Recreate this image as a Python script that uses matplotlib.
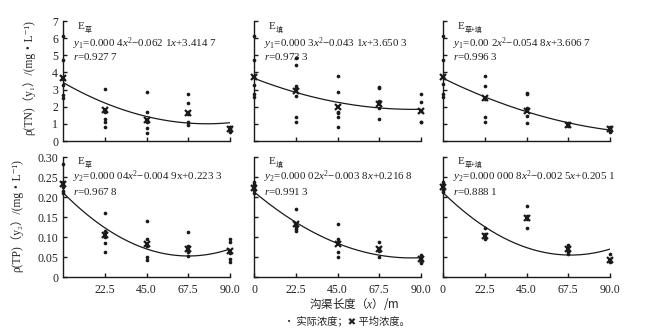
import matplotlib
matplotlib.use('Agg')
import matplotlib.pyplot as plt
import numpy as np

plt.rcParams['font.family'] = ['Liberation Serif', 'Noto Sans CJK SC', 'DejaVu Sans']
plt.rcParams['mathtext.fontset'] = 'custom'
plt.rcParams['mathtext.rm'] = 'Liberation Serif'
plt.rcParams['mathtext.it'] = 'Liberation Serif:italic'
plt.rcParams['axes.unicode_minus'] = True

# 沟渠长度
x_pos = [0, 22.5, 45, 67.5, 90]

# TN 实际浓度 (mg/L)
tn_cao = [[6.15, 4.73, 3.60, 3.27, 2.68, 2.53],
          [3.03, 1.81, 1.71, 1.26, 1.09, 0.80],
          [2.88, 1.71, 1.23, 1.09, 0.74, 0.45],
          [2.72, 2.24, 1.71, 1.58, 1.09, 0.93],
          [0.84, 0.80, 0.75, 0.65, 0.60, 0.55]]
tn_tian = [[6.15, 4.73, 3.72, 3.27, 2.74, 2.59],
           [4.86, 4.44, 3.21, 3.07, 2.65, 1.42, 1.13],
           [3.81, 2.84, 1.71, 1.61, 1.38, 0.80],
           [3.17, 3.11, 2.33, 2.24, 1.95, 1.26],
           [2.74, 2.26, 1.77, 1.13, 1.09]]
tn_mix = [[6.15, 4.73, 3.72, 3.31, 2.74, 2.59],
          [3.81, 3.21, 2.45, 1.42, 1.13],
          [2.82, 2.72, 1.91, 1.81, 1.46, 1.03],
          [1.03, 0.98, 0.93, 0.88],
          [0.84, 0.74, 0.70, 0.64, 0.55]]
# TN 平均浓度
tn_cao_mean = [3.65, 1.81, 1.25, 1.62, 0.70]
tn_tian_mean = [3.72, 2.92, 2.00, 2.15, 1.77]
tn_mix_mean = [3.72, 2.52, 1.75, 0.95, 0.70]

# TP 实际浓度 (mg/L)
tp_cao = [[0.282, 0.237, 0.226, 0.216, 0.211],
          [0.159, 0.116, 0.099, 0.084, 0.062],
          [0.141, 0.094, 0.078, 0.049, 0.043],
          [0.112, 0.078, 0.074, 0.062, 0.053],
          [0.095, 0.087, 0.059, 0.045, 0.038]]
tp_tian = [[0.237, 0.232, 0.226, 0.218, 0.211],
           [0.170, 0.128, 0.124, 0.120, 0.116],
           [0.1325, 0.095, 0.087, 0.062, 0.049],
           [0.088, 0.072, 0.065, 0.051],
           [0.055, 0.044, 0.038, 0.036]]
tp_mix = [[0.237, 0.232, 0.226, 0.218, 0.213],
          [0.122, 0.1075, 0.098, 0.094],
          [0.1775, 0.152, 0.144, 0.122],
          [0.080, 0.074, 0.0675, 0.062, 0.0575],
          [0.057, 0.045, 0.040, 0.037]]
tp_cao_mean = [0.232, 0.105, 0.083, 0.070, 0.066]
tp_tian_mean = [0.222, 0.132, 0.083, 0.069, 0.045]
tp_mix_mean = [0.225, 0.103, 0.148, 0.069, 0.043]

# 拟合曲线 (按图中曲线读取的系数 a, b, c)
fit_tn = [[0.0004, -0.0621, 3.4147],
          [0.000244, -0.0421, 3.66],
          [0.000217, -0.0531, 3.66]]
fit_tp = [[3.47e-5, -0.00469, 0.211],
          [2.3e-5, -0.0039, 0.213],
          [3.3e-5, -0.00454, 0.211]]

subs = ['草', '填', '草+填']
eq_tn = ['$y_1$=0.000 4$x^2$\u22120.062 1$x$+3.414 7',
         '$y_1$=0.000 3$x^2$\u22120.043 1$x$+3.650 3',
         '$y_1$=0.00 2$x^2$\u22120.054 8$x$+3.606 7']
r_tn = ['$r$=0.927 7', '$r$=0.973 3', '$r$=0.996 3']
eq_tp = ['$y_2$=0.000 04$x^2$\u22120.004 9x+0.223 3',
         '$y_2$=0.000 02$x^2$\u22120.003 8$x$+0.216 8',
         '$y_2$=0.000 000 8$x^2$\u22120.002 5$x$+0.205 1']
r_tp = ['$r$=0.967 8', '$r$=0.991 3', '$r$=0.888 1']

tn_vals = [tn_cao, tn_tian, tn_mix]
tn_means = [tn_cao_mean, tn_tian_mean, tn_mix_mean]
tp_vals = [tp_cao, tp_tian, tp_mix]
tp_means = [tp_cao_mean, tp_tian_mean, tp_mix_mean]

col = '#1a1a1a'
tcol = '#222222'
fig = plt.figure(figsize=(6.72, 3.31), dpi=100)

lefts = [63/672, 254/672, 443/672]
w = 167/672
h = 120/331
b_top = 1 - 141/331
b_bot = 1 - 277/331

xx = np.linspace(0, 90, 200)


def draw(ax, vals, means, coef, sub, eq, rtxt, ymax, yticks, ytl, row):
    for xp, ys in zip(x_pos, vals):
        ax.scatter([xp]*len(ys), ys, s=7, color=col, zorder=3, clip_on=False, linewidths=0)
    ax.plot(x_pos, means, 'x', color=col, ms=4.5, mew=1.6, zorder=4, clip_on=False)
    a, b, c = coef
    ax.plot(xx, a*xx**2 + b*xx + c, color=col, lw=0.9)
    ax.set_xlim(0, 90)
    ax.set_ylim(0, ymax)
    ax.spines['top'].set_visible(False)
    ax.spines['right'].set_visible(False)
    for s in ['left', 'bottom']:
        ax.spines[s].set_linewidth(1.0)
        ax.spines[s].set_color(col)
    ax.tick_params(direction='in', length=3, width=1.0, color=col, labelsize=8.5,
                   labelcolor=tcol, pad=3.5)
    ax.set_yticks(yticks)
    if ytl is None:
        ax.set_yticklabels([])
    else:
        ax.set_yticklabels(ytl)
    ty = [0.954, 0.8125, 0.702] if row == 0 else [0.9625, 0.833, 0.7125]
    ax.text(0.085, ty[0], 'E', transform=ax.transAxes, fontsize=8, va='center', color=tcol)
    ax.annotate(sub, xy=(0.085, ty[0]), xycoords='axes fraction', xytext=(5.2, -2.5),
                textcoords='offset points', fontsize=5, va='center', color=tcol,
                family=['Noto Sans CJK SC', 'DejaVu Sans'])
    ax.text(0.06, ty[1], eq, transform=ax.transAxes, fontsize=7.9, va='center', color=tcol)
    ax.text(0.06, ty[2], rtxt, transform=ax.transAxes, fontsize=7.9, va='center', color=tcol)


for i in range(3):
    ax = fig.add_axes([lefts[i], b_top, w, h])
    draw(ax, tn_vals[i], tn_means[i], fit_tn[i], subs[i], eq_tn[i], r_tn[i], 7,
         range(0, 8), [str(v) for v in range(0, 8)] if i == 0 else None, 0)
    ax.set_xticks([22.5, 45, 67.5, 90])
    ax.set_xticklabels([])
    if i == 0:
        ax.set_ylabel('ρ(TN)（y₁）/(mg・L⁻¹)', fontsize=8.3, color=tcol)
        ax.yaxis.set_label_coords(-0.168, 0.53)

tp_ticks = [0, 0.05, 0.10, 0.15, 0.20, 0.25, 0.30]
tp_tl = ['0', '0.05', '0.10', '0.15', '0.20', '0.25', '0.30']
for i in range(3):
    ax = fig.add_axes([lefts[i], b_bot, w, h])
    draw(ax, tp_vals[i], tp_means[i], fit_tp[i], subs[i], eq_tp[i], r_tp[i], 0.30,
         tp_ticks, tp_tl if i == 0 else None, 1)
    if i == 0:
        ax.set_xticks([22.5, 45, 67.5, 90])
        ax.set_xticklabels(['22.5', '45.0', '67.5', '90.0'])
        ax.set_ylabel('ρ(TP)（y₂）/(mg・L⁻¹)', fontsize=8.3, color=tcol)
        ax.yaxis.set_label_coords(-0.24, 0.51)
    else:
        ax.set_xticks([0, 22.5, 45, 67.5, 90])
        ax.set_xticklabels(['0', '22.5', '45.0', '67.5', '90.0'])
    ax.tick_params(axis='x', pad=5)

fig.text(354/672, 1 - 304/331, '沟渠长度（$x$）/m', ha='center', va='center', fontsize=8.3,
         color=tcol, family=['Noto Sans CJK SC', 'Liberation Serif'])
fig.text(347/672, 1 - 321/331, '• 实际浓度；\u2716 平均浓度。', ha='center', va='center',
         fontsize=7.4, color=tcol, family=['Noto Sans CJK SC', 'DejaVu Sans'])

fig.savefig('out.png', dpi=100)
